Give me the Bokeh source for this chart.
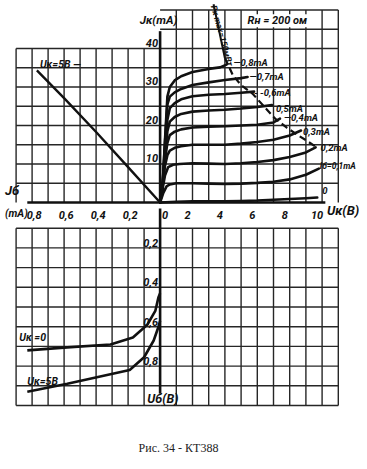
from bokeh.plotting import figure
from bokeh.models import Range1d, Label
from bokeh.core.properties import value
from bokeh.embed import file_html
from bokeh.resources import INLINE

# ---------------- data ----------------
# Output characteristics Ik(mA) vs Uk(V) for base currents Ib
uk_ib08 = [0, 0.15, 0.3, 0.45, 0.6, 0.9, 1.3, 2.0, 3.0, 3.7, 4.1]
ik_ib08 = [0, 4, 16, 27.5, 30.0, 31.7, 32.8, 33.9, 34.7, 35.1, 35.8]
uk_ib07 = [0, 0.15, 0.3, 0.45, 0.6, 0.9, 1.3, 2.0, 3.0, 4.0, 5.0, 5.4]
ik_ib07 = [0, 4, 15.5, 25.5, 27.5, 28.6, 29.5, 30.5, 31.2, 31.8, 32.3, 32.6]
uk_ib06 = [0, 0.15, 0.3, 0.45, 0.6, 0.9, 1.3, 2.0, 3.0, 4.0, 5.0, 5.8]
ik_ib06 = [0, 4, 14, 21.5, 24.5, 25.8, 26.8, 27.6, 28.0, 28.2, 28.5, 28.8]
uk_ib05 = [0, 0.15, 0.3, 0.45, 0.6, 0.9, 1.3, 2.0, 3.0, 4.0, 5.0, 6.0, 6.9]
ik_ib05 = [0, 4, 12.5, 18.5, 21.0, 22.2, 23.0, 23.6, 23.9, 24.1, 24.4, 24.8, 25.3]
uk_ib04 = [0, 0.15, 0.3, 0.45, 0.6, 0.9, 1.3, 2.0, 3.0, 4.0, 5.0, 6.0, 7.0, 7.4]
ik_ib04 = [0, 4, 11, 15.5, 17.5, 18.4, 19.0, 19.5, 19.7, 19.8, 20.0, 20.2, 20.8, 21.8]
uk_ib03 = [0, 0.15, 0.3, 0.45, 0.6, 0.9, 1.3, 2.0, 3.0, 4.0, 5.0, 6.0, 7.0, 8.0, 8.7]
ik_ib03 = [0, 4, 9.5, 12.3, 13.5, 14.2, 14.6, 15.0, 15.0, 15.0, 15.3, 15.7, 16.3, 17.4, 18.7]
uk_ib02 = [0, 0.15, 0.3, 0.5, 0.8, 1.2, 2.0, 3.0, 4.0, 5.0, 6.0, 7.0, 8.0, 9.0, 9.6]
ik_ib02 = [0, 3.5, 7.0, 9.2, 9.8, 10.0, 10.2, 10.1, 10.0, 10.2, 10.5, 11.0, 11.8, 13.0, 14.3]
uk_ib01 = [0, 0.2, 0.4, 0.6, 1.0, 2.0, 3.0, 4.0, 5.0, 6.0, 7.0, 8.0, 9.0, 9.8]
ik_ib01 = [0, 2.5, 4.2, 4.7, 5.0, 5.0, 4.9, 4.8, 4.9, 5.1, 5.4, 6.0, 7.2, 8.8]
uk_ib00 = [0, 1, 2, 3, 4, 5, 6, 7, 8, 9, 9.7]
ik_ib00 = [0, 0.2, 0.3, 0.3, 0.3, 0.4, 0.5, 0.7, 0.9, 1.1, 1.3]
curve_labels = ["\u20140,8mA", "\u20140,7mA", "- -0,6mA", "0,5mA", "\u20140,4mA",
                "0,3mA", "0,2mA", "I\u0431=0,1mA", "0"]

# Max collector power hyperbola (Pk = 150 mW)
uk_pmax = [3.3, 3.65, 4.0, 4.5, 5.0, 5.7, 6.4, 7.1, 7.8, 8.5, 9.0, 9.6]
ik_pmax = [51.5, 44.5, 37.5, 33.0, 30.5, 28.3, 25.0, 21.8, 19.5, 17.5, 16.2, 14.5]

# Transfer characteristic Ik(Ib) at Uk = 5 V
ib_transfer = [0, 0.2, 0.4, 0.6, 0.77]
ik_transfer = [0, 9.2, 18.3, 27.1, 34.3]

# Input characteristics Ib(mA) vs Ub(V)
ib_in_uk0 = [0.83, 0.58, 0.31, 0.17, 0.08, 0.03, 0.01, 0.0]
ub_in_uk0 = [0.72, 0.705, 0.69, 0.655, 0.59, 0.52, 0.45, 0.43]
ib_in_uk5 = [0.83, 0.58, 0.19, 0.10, 0.04, 0.01, 0.0]
ub_in_uk5 = [0.93, 0.89, 0.82, 0.755, 0.67, 0.60, 0.57]

# ticks
ik_ticks = [10, 20, 30, 40]
uk_ticks = [0, 2, 4, 6, 8, 10]
ib_ticks = [0.8, 0.6, 0.4, 0.2]
ub_ticks = [0.2, 0.4, 0.6, 0.8]
ik_grid = [5, 10, 15, 20, 25, 30, 35, 40, 45, 50]
uk_grid = [1, 2, 3, 4, 5, 6, 7, 8, 9, 10, 11]
ib_grid = [0.1, 0.2, 0.3, 0.4, 0.5, 0.6, 0.7, 0.8, 0.9]
ub_grid = [0.1, 0.2, 0.3, 0.4, 0.5, 0.6, 0.7, 0.8, 0.9, 1.0]

# ---------------- layout ----------------
SH = 8  # the canvas is drawn 8 px up/left of the page origin
W, H = 367, 469
X0, UK_PX, IB_PX = 159.6 + SH, 16.2, 160.0
Y0, IK_PX = 202.0 + SH, 3.85
UB0, UB_PX = 208.0 + SH, 197.0

p = figure(width=W, height=H, output_backend="svg", toolbar_location=None,
           x_axis_type=None, y_axis_type=None, min_border=0,
           x_range=Range1d(-X0 / UK_PX, (W - X0) / UK_PX),
           y_range=Range1d((Y0 - H) / IK_PX, Y0 / IK_PX),
           margin=(-8, 0, 0, -8))
p.extra_x_ranges = {"ib": Range1d(X0 / IB_PX, (X0 - W) / IB_PX)}
p.extra_y_ranges = {"ub": Range1d((H - UB0) / UB_PX, -UB0 / UB_PX)}
p.outline_line_color = None
p.background_fill_color = "white"
p.border_fill_color = "white"

GRID = "#262626"
INK = "#111111"
GW = 1.4
FONT = "Roboto"
HAND = value(FONT)

ibmax = max(ib_grid)
ukmax = max(uk_grid)
# ---- grid: top-left (Ib / Ik)
ik_left = [v for v in ik_grid if v <= 40]
p.segment(x0=ib_grid, y0=[0] * len(ib_grid), x1=ib_grid, y1=[40] * len(ib_grid),
          x_range_name="ib", line_color=GRID, line_width=GW)
p.segment(x0=[ibmax] * len(ik_left), y0=ik_left, x1=[0] * len(ik_left), y1=ik_left,
          x_range_name="ib", line_color=GRID, line_width=GW)
# ---- grid: top-right (Uk / Ik)
p.segment(x0=uk_grid, y0=[0] * len(uk_grid), x1=uk_grid, y1=[max(ik_grid)] * len(uk_grid),
          line_color=GRID, line_width=GW)
p.segment(x0=[0] * len(ik_grid), y0=ik_grid, x1=[ukmax] * len(ik_grid), y1=ik_grid,
          line_color=GRID, line_width=GW)
# ---- grid: bottom (Ub)
p.segment(x0=ib_grid, y0=[min(ub_grid)] * len(ib_grid), x1=ib_grid, y1=[max(ub_grid)] * len(ib_grid),
          x_range_name="ib", y_range_name="ub", line_color=GRID, line_width=GW)
p.segment(x0=uk_grid, y0=[min(ub_grid)] * len(uk_grid), x1=uk_grid, y1=[max(ub_grid)] * len(uk_grid),
          y_range_name="ub", line_color=GRID, line_width=GW)
p.segment(x0=[0] * len(ub_grid), y0=ub_grid, x1=[ukmax] * len(ub_grid), y1=ub_grid,
          y_range_name="ub", line_color=GRID, line_width=GW)
p.segment(x0=[ibmax] * len(ub_grid), y0=ub_grid, x1=[0] * len(ub_grid), y1=ub_grid,
          x_range_name="ib", y_range_name="ub", line_color=GRID, line_width=GW)

# ---- axes
p.segment(x0=[0], y0=[44.5], x1=[0], y1=[0], line_color=INK, line_width=2.6)
p.segment(x0=[0], y0=[0], x1=[0], y1=[0.94], y_range_name="ub", line_color=INK, line_width=2.6)
p.segment(x0=[0.83], y0=[0], x1=[0], y1=[0], x_range_name="ib", line_color=INK, line_width=2.6)
p.segment(x0=[0], y0=[0], x1=[10.2], y1=[0], line_color=INK, line_width=2.6)

# ---- output curves
curves = [(uk_ib08, ik_ib08), (uk_ib07, ik_ib07), (uk_ib06, ik_ib06), (uk_ib05, ik_ib05),
          (uk_ib04, ik_ib04), (uk_ib03, ik_ib03), (uk_ib02, ik_ib02), (uk_ib01, ik_ib01),
          (uk_ib00, ik_ib00)]
for u, i in curves:
    p.line(u, i, line_color=INK, line_width=2.6, line_join="round", line_cap="round")

# power hyperbola: solid near the label, dashed below
p.line(uk_pmax[:3], ik_pmax[:3], line_color=INK, line_width=2.0)
p.line(uk_pmax[2:], ik_pmax[2:], line_color=INK, line_width=2.2, line_dash="7 4")

# curve labels anchored at curve ends
ends_x = [c[0][-1] for c in curves]
ends_y = [c[1][-1] for c in curves]
lab_dx = [7, 2, 0, 4, 4, 2, 5, 1, 5]
lab_dy = [-2, 0, 1, 3, -1, 1, 0, -3, -7]
lab_fs = ["9.5px"] * 7 + ["8.5px", "9.5px"]
p.text(x=ends_x, y=ends_y, text=curve_labels, x_offset=lab_dx, y_offset=lab_dy,
       text_font=HAND, text_font_style="bold italic", text_font_size=lab_fs,
       text_baseline="middle", text_align="left", text_color=INK)

# rotated hyperbola label
p.text(x=[uk_pmax[0]], y=[ik_pmax[0]], text=["P\u043a max=150\u043c\u0412\u0442"], angle=-1.30,
       x_offset=[5], y_offset=[0], text_font=HAND, text_font_style="bold italic",
       text_font_size="8.5px", text_baseline="top", text_align="left", text_color=INK)

# ---- transfer line (top-left)
p.line(ib_transfer, ik_transfer, x_range_name="ib", line_color=INK, line_width=2.4)
p.text(x=[ib_transfer[-1]], y=[ik_transfer[-1]], text=["U\u043a=5\u0412 \u2014"],
       x_range_name="ib", x_offset=[3], y_offset=[1], text_font=HAND,
       text_font_style="bold italic", text_font_size="10.5px", text_baseline="bottom",
       text_align="left", text_color=INK)

# ---- input curves (bottom-left)
p.line(ib_in_uk0, ub_in_uk0, x_range_name="ib", y_range_name="ub", line_color=INK, line_width=2.6)
p.line(ib_in_uk5, ub_in_uk5, x_range_name="ib", y_range_name="ub", line_color=INK, line_width=2.6)
p.text(x=[ib_in_uk0[0], ib_in_uk5[0]], y=[ub_in_uk0[0], ub_in_uk5[0]],
       text=["U\u043a =0", "U\u043a=5\u0412"], x_offset=[-8, 0], y_offset=[-6, -4],
       x_range_name="ib", y_range_name="ub", text_font=HAND, text_font_style="bold italic",
       text_font_size="10.5px", text_baseline="bottom", text_align="left", text_color=INK)

# ---- tick labels
p.text(x=[0] * len(ik_ticks), y=ik_ticks, text=[str(v) for v in ik_ticks],
       x_offset=[-2] * len(ik_ticks), y_offset=[-2] * len(ik_ticks),
       text_font=HAND, text_font_style="bold italic", text_font_size="11px",
       text_baseline="bottom", text_align="right", text_color=INK)
p.text(x=uk_ticks, y=[0] * len(uk_ticks), text=[str(v) for v in uk_ticks],
       x_offset=[5 if v == 0 else -5 for v in uk_ticks], y_offset=[8] * len(uk_ticks),
       text_font=HAND, text_font_style="bold italic", text_font_size="11px",
       text_baseline="top", text_align="center", text_color=INK)
p.text(x=ib_ticks, y=[0] * len(ib_ticks), text=[f"{v:.1f}".replace(".", ",") for v in ib_ticks],
       x_range_name="ib", x_offset=[2] * len(ib_ticks), y_offset=[8] * len(ib_ticks),
       text_font=HAND, text_font_style="bold italic", text_font_size="11px",
       text_baseline="top", text_align="center", text_color=INK)
p.text(x=[0] * len(ub_ticks), y=ub_ticks, text=[f"{v:.1f}".replace(".", ",") for v in ub_ticks],
       y_range_name="ub", x_offset=[-2] * len(ub_ticks), y_offset=[-1] * len(ub_ticks),
       text_font=HAND, text_font_style="bold italic", text_font_size="11px",
       text_baseline="bottom", text_align="right", text_color=INK)

# ---- axis titles & notes
def hand(x, y, txt, size="13px", align="left", baseline="middle", xr=None, yr=None, **kw):
    lab = Label(x=x, y=y, text=txt, text_font=FONT, text_font_style="bold italic",
                text_font_size=size, text_align=align, text_baseline=baseline,
                text_color=INK, **kw)
    if xr:
        lab.x_range_name = xr
    if yr:
        lab.y_range_name = yr
    p.add_layout(lab)

hand(-1.25, 47.5, "J\u043a(mA)", size="11.5px", align="left")
hand(10.3, -2.0, "U\u043a(\u0412)", size="13px")
hand(0.97, 3.0, "J\u0431", size="13px", xr="ib")
hand(0.97, -2.8, "(mA)", size="10.5px", xr="ib")
hand(0.08, 0.965, "U\u0431(\u0412)", size="12.5px", xr="ib", yr="ub")
hand(5.4, 47.2, "R\u043d = 200 \u043e\u043c", size="11px", background_fill_color="white")

cap = Label(x=(178 + SH - X0) / UK_PX, y=(Y0 - 447 - SH) / IK_PX,
            text="\u0420\u0438\u0441. 34 - \u041a\u0422388",
            text_font="Liberation Serif", text_font_size="12px", text_align="center",
            text_baseline="middle", text_color="#222222")
p.add_layout(cap)

open("out.html", "w").write(file_html(p, INLINE))
